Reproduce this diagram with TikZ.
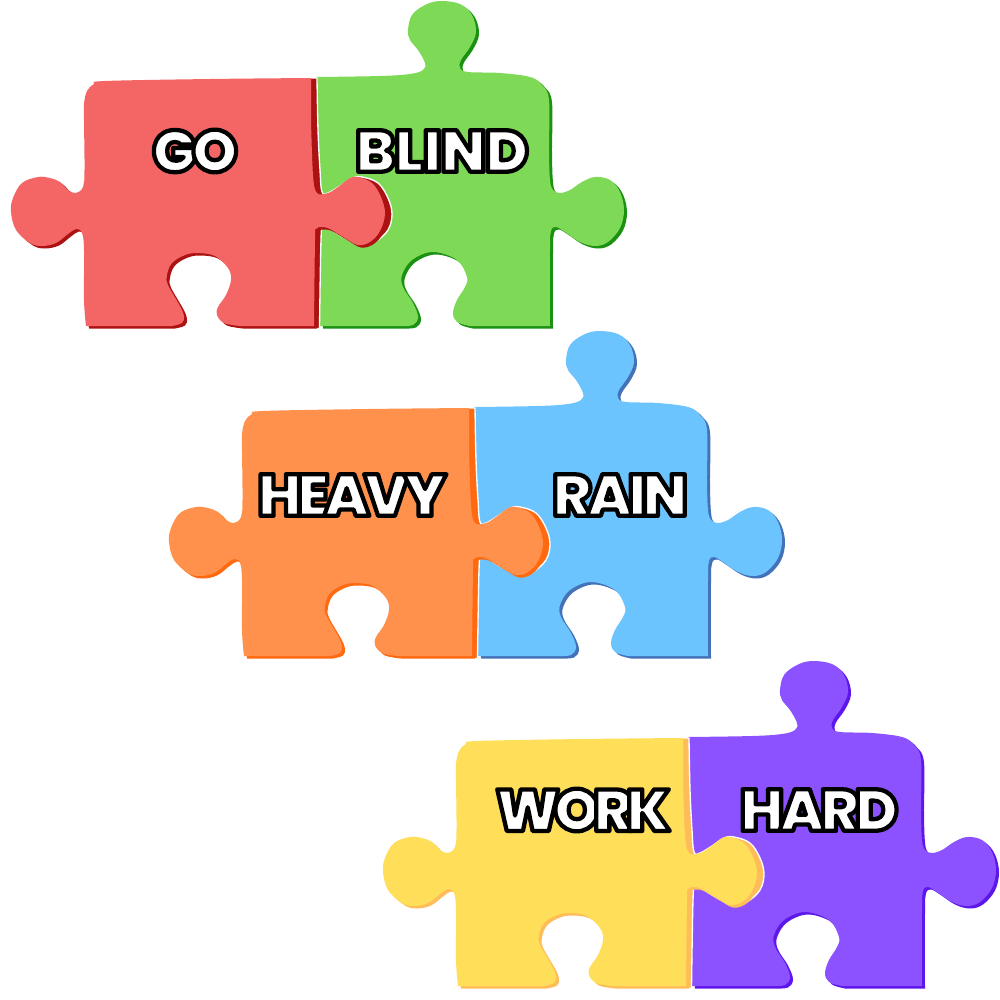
\documentclass[tikz,border=0pt]{standalone}
\usepackage{fontspec}
\setmainfont{Poppins}[BoldFont={Poppins Black},LetterSpace=-6]
\newcommand\outl[2][-6]{\addfontfeature{LetterSpace=#1}\special{pdf:code q 2 Tr 3.2 w 1 j 0 0 0 RG 1 1 1 rg}#2\special{pdf:code Q}}
\tikzset{
  word/.style={inner sep=0pt,font=\bfseries\fontsize{44}{44}\selectfont,text=white},
  sm/.style={smooth,tension=.6}
}
\newcommand\leftshape{%
 plot[sm] coordinates {(311,78)(210,79)(105,81)(94,84)(87,91)(84,104)(84,120)(84.5,170)(83,187)(76,193)(68,190)(60,182)(50,178)(38,177)(22,183)(13,198)(11,212)(16,230)(30,243)(42,246)(56,243)(68,234)(76,229)(82,233)(84,250)(84,300)(86,326)}
 -- plot[sm] coordinates {(172,326)(182,323)(184,316)(180,306)(168,285)(167,275)(172,263)(185,255)(198,253)(215,256)(228,268)(231,280)(226,295)(218,307)(217,315)(224,323)(240,326)}
 -- plot[sm] coordinates {(314,326)(315,240)(316,229)(322,227)(330,229)(345,238)(358,245)(370,242)(380,231)(385,214)(381,197)(372,183)(358,177)(350,178)(338,187)(328,193)(317,193)(313,175)(311,120)} -- cycle}
\newcommand\rimshape{%
 plot[sm] coordinates {(317,78)(318,130)(320,170)(322,192)(328,193)(340,186)(352,178)(362,177)(378,183)(388,198)(392,214)(388,230)(375,242)(362,246)(345,238)(330,229)(323,227)(321,240)(319.5,328.5)} -- (305,328.5) -- (305,78) -- cycle}
\newcommand\rightshape{%
 plot[sm] coordinates {(316,77)(380,76)(410,74)(423,70)(425,63)(418,50)(410,40)(408,30)(412,15)(425,5)(440,1)(460,4)(472,15)(476,32)(470,47)(461,60)(460,68)(468,72)(500,73)(530,77)(542,85)(549,100)(549,150)(550,180)(553,190)(560,193)(570,190)(582,182)(595,177)(610,180)(620,192)(624,210)(620,228)(608,242)(595,246)(580,242)(565,232)(556,227)(551,231)(550,250)(550,326)}
 -- plot[sm] coordinates {(470,326)(457,322)(453,313)(457,300)(465,287)(467,277)(457,260)(433,252)(412,260)(402,275)(403,287)(413,303)(418,317)(413,325)(400,326)}
 -- (320,326) -- cycle}
\newcommand\pair[6]{%
 \begin{scope}[shift={(#1,#2)}]
  \fill[#6,shift={(3,2.5)}] \rightshape;
  \fill[#5] \rightshape;
  \filldraw[fill=#4,draw=white,line width=1pt] \rimshape;
  \fill[#4,shift={(3,2.5)}] \leftshape;
  \fill[#3] \leftshape;
 \end{scope}}
\definecolor{redL}{HTML}{F46666}\definecolor{redD}{HTML}{AD1212}
\definecolor{grnL}{HTML}{7ED957}\definecolor{grnD}{HTML}{1A9110}
\definecolor{orgL}{HTML}{FF914D}\definecolor{orgD}{HTML}{FF6A10}
\definecolor{bluL}{HTML}{6CC4FF}\definecolor{bluD}{HTML}{4472B8}
\definecolor{yelL}{HTML}{FFDE59}\definecolor{yelD}{HTML}{FFBD59}
\definecolor{purL}{HTML}{8C52FF}\definecolor{purD}{HTML}{5E17EB}
\begin{document}
\begin{tikzpicture}[x=.75pt,y=-.75pt]
\useasboundingbox (0,0) rectangle (1000,1000);
\pair{0}{0}{redL}{redD}{grnL}{grnD}
\pair{158}{330}{orgL}{orgD}{bluL}{bluD}
\pair{372}{660}{yelL}{yelD}{purL}{purD}
\node[word] (go) at (195,151) {\outl[-8]{GO}};
\node[word] (blind) at (442,151) {\outl[-2]{BLIND}};
\node[word] (heavy) at (352,495) {\outl[-9]{HEAVY}};
\node[word] (rain) at (620,495) {\outl[-8]{RAIN}};
\node[word] (work) at (583,810) {\outl[-11]{WORK}};
\node[word] (hard) at (819,810) {\outl[-8]{HARD}};
\end{tikzpicture}
\end{document}
